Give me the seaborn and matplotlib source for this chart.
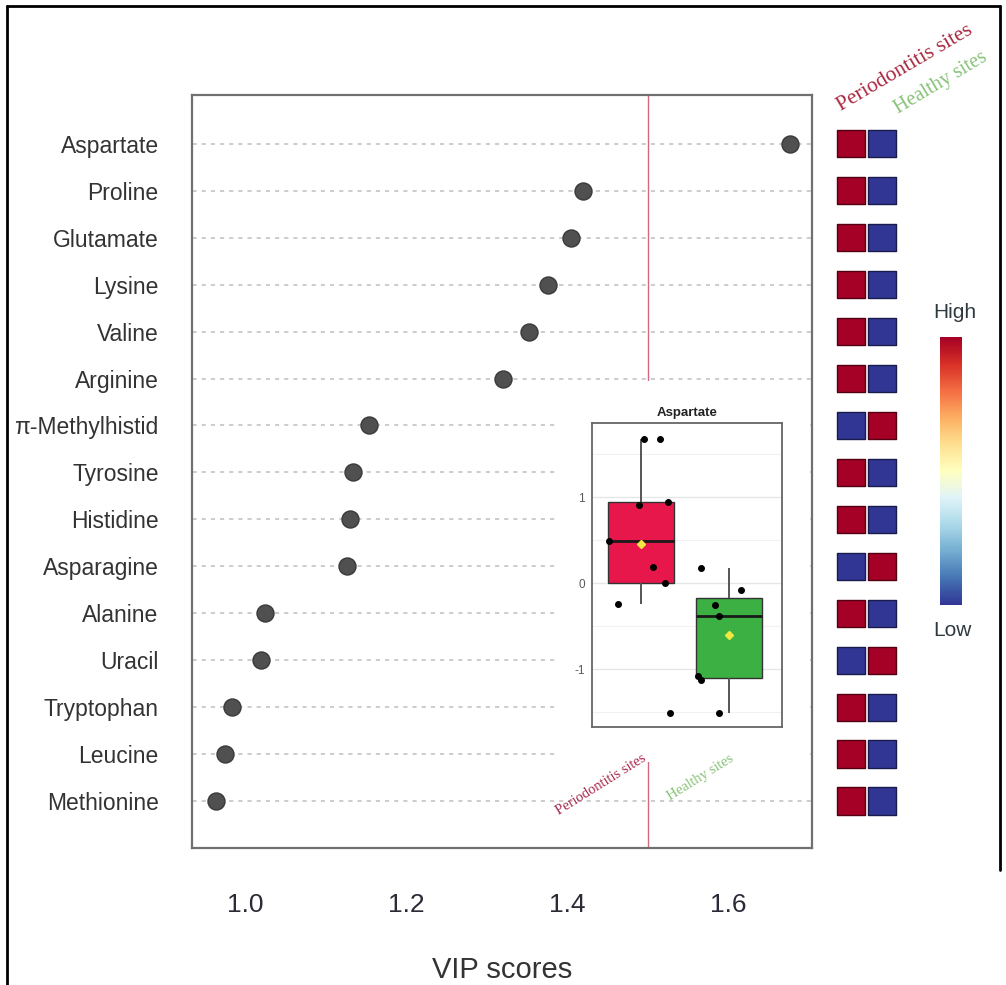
import numpy as np
import pandas as pd
import matplotlib
matplotlib.use("Agg")
import matplotlib.pyplot as plt
import seaborn as sns
from matplotlib.patches import Rectangle
from matplotlib.lines import Line2D
from matplotlib.cm import ScalarMappable
from matplotlib.colors import Normalize

# VIP scores
metabolites = ["Aspartate", "Proline", "Glutamate", "Lysine", "Valine", "Arginine",
               "\u03c0-Methylhistid", "Tyrosine", "Histidine", "Asparagine", "Alanine",
               "Uracil", "Tryptophan", "Leucine", "Methionine"]
vip = [1.677, 1.420, 1.405, 1.376, 1.352, 1.320, 1.154, 1.134, 1.130, 1.127,
       1.025, 1.020, 0.984, 0.975, 0.964]

# relative level in each group (1 = high, 0 = low)
level_perio = [1, 1, 1, 1, 1, 1, 0, 1, 1, 0, 1, 0, 1, 1, 1]
level_healthy = [0, 0, 0, 0, 0, 0, 1, 0, 0, 1, 0, 1, 0, 0, 0]
groups = ["Periodontitis sites", "Healthy sites"]

# inset: normalised Aspartate per group, with the jitter seen in the picture
asp_perio = [1.68, 1.68, 0.907, 0.937, 0.484, 0.193, 0.007, -0.244, -1.505]
jit_perio = [0.03, 0.22, -0.02, 0.31, -0.36, 0.14, 0.27, -0.26, 0.33]
asp_healthy = [0.174, -0.081, -0.252, -0.38, -1.078, -1.128, -1.505]
jit_healthy = [-0.32, 0.13, -0.16, -0.12, -0.35, -0.32, -0.11]

W, H = 1006, 985
sns.set_style("white")
plt.rcParams["font.family"] = ["Liberation Sans", "DejaVu Sans"]
plt.rcParams["axes.unicode_minus"] = False

fig = plt.figure(figsize=(W / 100, H / 100), dpi=100)


def px_axes(x0, y0, x1, y1):
    return fig.add_axes([x0 / W, 1 - y1 / H, (x1 - x0) / W, (y1 - y0) / H])


# ---- main dot plot ----
ax = px_axes(192, 95, 812, 848)
rows = np.arange(len(metabolites))
df = pd.DataFrame({"metabolite": metabolites, "vip": vip, "row": rows})

ax.hlines(rows, 0.9, 1.8, colors="#c4c4c4", linestyles=(0, (2.5, 3)), lw=1.2, zorder=1)
ax.axvline(1.5, color="#d06882", lw=1.0, zorder=1.5)
ax.add_patch(Rectangle((1.389, 5.06), 0.312, 8.1, facecolor="white",
                       edgecolor="none", zorder=2.5))
sns.scatterplot(data=df, x="vip", y="row", ax=ax, s=150, color="#505050",
                edgecolor="#3a3a3a", linewidth=1, zorder=3, legend=False)

ax.set_xlim(0.934, 1.704)
ax.set_ylim(15.0, -1.04)
ax.set_yticks(rows)
ax.set_yticklabels(metabolites)
ax.set_xticks([1.0, 1.2, 1.4, 1.6])
ax.set_xticklabels(["1.0", "1.2", "1.4", "1.6"])
ax.tick_params(axis="x", length=11.5, width=1.6, color="#555555", pad=21,
               labelsize=19, labelcolor="#2b2b38")
ax.tick_params(axis="y", length=0, pad=24, labelsize=16.5, labelcolor="#333333")
ax.set_xlabel("VIP scores", fontsize=21, color="#333333", labelpad=28)
ax.set_ylabel("")
for sp in ax.spines.values():
    sp.set_color("#707070")
    sp.set_linewidth(1.6)

# ---- heat squares ----
hx = px_axes(832.4, 95, 900.6, 848)
cmap = plt.get_cmap("RdYlBu_r")
for j, lev in enumerate([level_perio, level_healthy]):
    cols = [cmap(float(v)) for v in lev]
    edges = [tuple(np.array(c[:3]) * 0.5) for c in cols]
    hx.scatter(np.full(len(rows), j), rows, marker="s", s=385, c=cols,
               edgecolors=edges, linewidths=1.0)
hx.set_xlim(-0.6, 1.6)
hx.set_ylim(15.0, -1.04)
hx.axis("off")

fig.text(841 / W, 1 - 111 / H, groups[0], rotation=30.5, rotation_mode="anchor",
         ha="left", va="baseline", fontsize=15.5, color="#a8283f",
         family="Liberation Serif")
fig.text(898 / W, 1 - 114 / H, groups[1], rotation=31, rotation_mode="anchor",
         ha="left", va="baseline", fontsize=14.5, color="#86c276",
         family="Liberation Serif")

# ---- colour key ----
cax = px_axes(940, 337, 962, 605)
cb = fig.colorbar(ScalarMappable(norm=Normalize(0, 1), cmap=cmap), cax=cax)
cb.set_ticks([])
cb.outline.set_visible(False)
fig.text(955 / W, 1 - 313 / H, "High", ha="center", va="center", fontsize=15,
         color="#2f3a40")
fig.text(952 / W, 1 - 631 / H, "Low", ha="center", va="center", fontsize=15,
         color="#2f3a40")

# ---- inset box plot ----
ins = px_axes(592, 423, 782, 727)
box_df = pd.DataFrame({
    "group": [groups[0]] * len(asp_perio) + [groups[1]] * len(asp_healthy),
    "value": asp_perio + asp_healthy,
})
ins.set_axisbelow(True)
ins.set_yticks([-1, 0, 1])
ins.set_yticks([-1.5, -0.5, 0.5, 1.5], minor=True)
ins.grid(True, which="major", color="#e6e6e6", lw=1.0)
ins.grid(True, which="minor", axis="y", color="#f1f1f1", lw=0.8)
sns.boxplot(data=box_df, x="group", y="value", hue="group", order=groups,
            hue_order=groups, palette=["#e8174b", "#3cb043"], saturation=1,
            width=0.75, showfliers=False, linewidth=1.0, linecolor="#333333",
            whis=1.5, showmeans=True, legend=False, ax=ins,
            medianprops=dict(color="#1a1a1a", lw=2.0),
            whiskerprops=dict(color="#555555", lw=1.4),
            capprops=dict(lw=0),
            meanprops=dict(marker="D", markerfacecolor="#f2e640",
                           markeredgecolor="#f2e640", markersize=4.5))
pts_x = [0 + d for d in jit_perio] + [1 + d for d in jit_healthy]
ins.scatter(pts_x, box_df["value"], s=16, color="black", zorder=5)
ins.set_xlim(-0.557, 1.6)
ins.set_ylim(-1.67, 1.86)
ins.set_xlabel("")
ins.set_ylabel("")
ins.set_title("Aspartate", fontsize=9.5, fontweight="bold", color="#222222", pad=5)
ins.tick_params(axis="y", length=3, width=0.8, color="#666666", labelsize=8.5,
                labelcolor="#5a5a5a", pad=2)
ins.tick_params(axis="x", length=3, width=0.8, color="#666666", pad=15)
ins.set_xticks([0, 1])
ins.set_xticklabels(groups, rotation=32, ha="right", va="top",
                    rotation_mode="anchor", family="Liberation Serif", fontsize=10.5)
lab_cols = ["#a8284a", "#86c276"]
for t, c in zip(ins.get_xticklabels(), lab_cols):
    t.set_color(c)
for sp in ins.spines.values():
    sp.set_color("#666666")
    sp.set_linewidth(1.3)

# ---- outer frame ----
for xs, ys in [((7 / W, 7 / W), (0, 1 - 6 / H)),
               ((7 / W, 1000 / W), (1 - 6 / H, 1 - 6 / H)),
               ((1000 / W, 1000 / W), (1 - 6 / H, 1 - 870 / H))]:
    fig.add_artist(Line2D(xs, ys, transform=fig.transFigure, color="black", lw=2.0))

fig.savefig("out.png", dpi=100, facecolor="white")
